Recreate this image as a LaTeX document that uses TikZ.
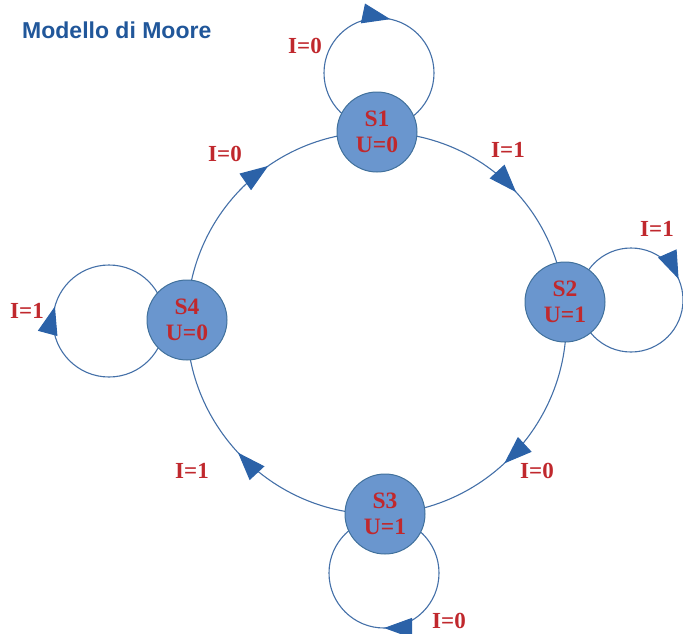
\documentclass[tikz,border=0pt]{standalone}
\usepackage{fontspec}
\setmainfont{Liberation Serif}
\newfontfamily\titlefont{Liberation Sans}
\usetikzlibrary{arrows.meta,decorations.markings,backgrounds}
\definecolor{nodefill}{HTML}{6A96CE}
\definecolor{nodeedge}{HTML}{41719C}
\definecolor{linec}{HTML}{4470A8}
\definecolor{arrowc}{HTML}{2B62A8}
\definecolor{txtred}{HTML}{C0282D}
\definecolor{titleblue}{HTML}{21579A}
\tikzset{
  stnode/.style={circle, fill=nodefill, draw=nodeedge, line width=1pt, minimum size=80pt,
    inner sep=0pt, align=center, text=txtred, font=\fontsize{23.5}{26}\selectfont\bfseries},
  lbl/.style={text=txtred, font=\fontsize{23}{26}\selectfont\bfseries, inner sep=0pt},
  conn/.style={draw=linec, line width=1.1pt, postaction={decorate},
    decoration={markings, mark=at position #1 with {\arrow[color=arrowc]{Triangle[length=28pt,width=20pt]}}}},
}
\begin{document}
\begin{tikzpicture}[x=1pt,y=-1pt]
\useasboundingbox (0,0) rectangle (683,633);
\node[anchor=base west, text=titleblue, font=\titlefont\fontsize{23}{27}\selectfont\bfseries, inner sep=0pt] (title) at (22,38) {Modello di Moore};

\node[stnode] (s1) at (377,132) {S1\\U=0};
\node[stnode] (s2) at (565,302) {S2\\U=1};
\node[stnode] (s3) at (385,514) {S3\\U=1};
\node[stnode] (s4) at (187,320) {S4\\U=0};

\begin{scope}[on background layer]
\draw[conn=0.56] (s1.center) to[bend left=41.7] (s2.center);
\draw[conn=0.575] (s2.center) to[bend left=46.8] (s3.center);
\draw[conn=0.53] (s3.center) to[bend left=46.8] (s4.center);
\draw[conn=0.61] (s4.center) to[bend left=44.7] (s1.center);
\draw[conn=0.533] (s1.center) ++(2,-4) arc[start angle=270, end angle=-90, radius=55pt];
\draw[conn=0.434] (s2.center) ++(14,-2) arc[start angle=180, end angle=-180, radius=52pt];
\draw[conn=0.5] (s3.center) ++(-1,4) arc[start angle=90, end angle=-270, radius=55pt];
\draw[conn=0.542] (s4.center) ++(-22,1) arc[start angle=0, end angle=-360, radius=56pt];
\end{scope}

\node[lbl] (l1) at (305,46) {I=0};
\node[lbl] (l2) at (508,150) {I=1};
\node[lbl] (l3) at (657,229) {I=1};
\node[lbl] (l4) at (537,471) {I=0};
\node[lbl] (l5) at (449,621) {I=0};
\node[lbl] (l6) at (192,471) {I=1};
\node[lbl] (l7) at (27,311) {I=1};
\node[lbl] (l8) at (225,154) {I=0};
\end{tikzpicture}
\end{document}
